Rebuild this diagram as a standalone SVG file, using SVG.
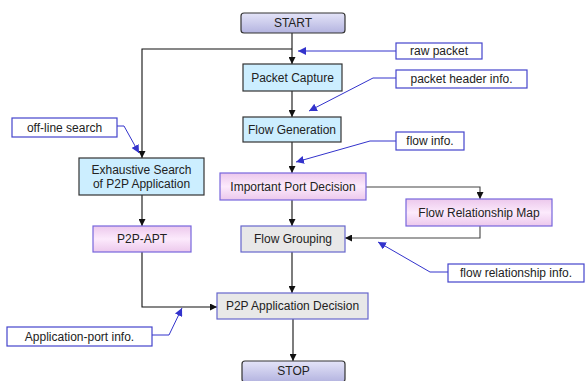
<svg xmlns="http://www.w3.org/2000/svg" width="586" height="381" viewBox="0 0 586 381">
<defs>
<linearGradient id="gTerm" x1="0" y1="0" x2="0" y2="1">
<stop offset="0" stop-color="#e4e4f8"/>
<stop offset="1" stop-color="#b4b4e0"/>
</linearGradient>
<linearGradient id="gPink" x1="0" y1="0" x2="0" y2="1">
<stop offset="0" stop-color="#ecc8ec"/>
<stop offset="0.5" stop-color="#fceafc"/>
<stop offset="1" stop-color="#ecc8ec"/>
</linearGradient>
<marker id="ah" viewBox="0 0 10 10" refX="10" refY="5" markerWidth="7" markerHeight="7" orient="auto" markerUnits="userSpaceOnUse">
<path d="M0,0 L10,5 L0,10 z" fill="#111"/>
</marker>
<marker id="ab" viewBox="0 0 10 10" refX="10" refY="5" markerWidth="8" markerHeight="8" orient="auto" markerUnits="userSpaceOnUse">
<path d="M0,0 L10,5 L0,10 z" fill="#3333cc"/>
</marker>
</defs>
<style>
text{font-family:"Liberation Sans",Arial,sans-serif;font-size:12px;fill:#222;text-anchor:middle;dominant-baseline:central}
.term{fill:url(#gTerm);stroke:#333;stroke-width:1.2}
.blue{fill:#cceeff;stroke:#333;stroke-width:1.2}
.pink{fill:url(#gPink);stroke:#7766dd;stroke-width:1.2}
.gray{fill:#e8e8e8;stroke:#6666cc;stroke-width:1.2}
.note{fill:#fff;stroke:#4444cc;stroke-width:1.2}
.c{fill:none;stroke:#111;stroke-width:1.1}
.cg{fill:none;stroke:#444;stroke-width:1.1}
.p{fill:none;stroke:#3333cc;stroke-width:1}
</style>
<rect width="586" height="381" fill="#fff"/>
<g id="connectors">
<path class="c" d="M292,33 V64" marker-end="url(#ah)"/>
<path class="c" d="M292,49 H142 V158" marker-end="url(#ah)"/>
<path class="c" d="M292,91 V117" marker-end="url(#ah)"/>
<path class="c" d="M292,142 V173" marker-end="url(#ah)"/>
<path class="c" d="M292,200 V226" marker-end="url(#ah)"/>
<path class="cg" d="M366,187 H480 V199" marker-end="url(#ah)"/>
<path class="cg" d="M480,226 V238 H345" marker-end="url(#ah)"/>
<path class="c" d="M292,252 V293" marker-end="url(#ah)"/>
<path class="c" d="M142,195 V226" marker-end="url(#ah)"/>
<path class="c" d="M142,252 V307 H217" marker-end="url(#ah)"/>
<path class="c" d="M293,319 V361" marker-end="url(#ah)"/>
<path class="p" d="M396,51 H298" marker-end="url(#ab)"/>
<path class="p" d="M396,78 H373 L309,111" marker-end="url(#ab)"/>
<path class="p" d="M396,141 H370 L296,162" marker-end="url(#ab)"/>
<path class="p" d="M117,126 H124 L139,153" marker-end="url(#ab)"/>
<path class="p" d="M448,272 H430 L378,242" marker-end="url(#ab)"/>
<path class="p" d="M152,335 H169 L182,308" marker-end="url(#ab)"/>
</g>
<g id="start"><rect class="term" x="241" y="13" width="104" height="20" rx="3"/><text x="293" y="23">START</text></g>
<g id="packet-capture"><rect class="blue" x="243" y="64" width="99" height="27"/><text x="292.5" y="77.5">Packet Capture</text></g>
<g id="flow-generation"><rect class="blue" x="243" y="117" width="98" height="25"/><text x="292" y="129.5">Flow Generation</text></g>
<g id="important-port-decision"><rect class="pink" x="220" y="173" width="146" height="27"/><text x="293" y="186.5">Important Port Decision</text></g>
<g id="flow-grouping"><rect class="gray" x="241" y="226" width="104" height="26"/><text x="293" y="239">Flow Grouping</text></g>
<g id="flow-relationship-map"><rect class="pink" x="406" y="199" width="146" height="27"/><text x="479" y="212.5">Flow Relationship Map</text></g>
<g id="exhaustive-search"><rect class="blue" x="79" y="158" width="125" height="37"/><text x="141.5" y="170">Exhaustive Search</text><text x="141.5" y="184">of P2P Application</text></g>
<g id="p2p-apt"><rect class="pink" x="93" y="226" width="98" height="26"/><text x="142" y="239">P2P-APT</text></g>
<g id="p2p-application-decision"><rect class="gray" x="217" y="293" width="151" height="26"/><text x="292.5" y="306">P2P Application Decision</text></g>
<g id="stop"><rect class="term" x="242" y="361" width="103" height="21" rx="3"/><text x="293.5" y="371">STOP</text></g>
<g id="note-raw-packet"><rect class="note" x="396" y="43" width="86" height="16"/><text x="439" y="51">raw packet</text></g>
<g id="note-packet-header"><rect class="note" x="396" y="70" width="131" height="18"/><text x="461.5" y="79">packet header info.</text></g>
<g id="note-flow-info"><rect class="note" x="396" y="132" width="68" height="18"/><text x="430" y="141">flow info.</text></g>
<g id="note-offline"><rect class="note" x="12" y="118" width="105" height="19"/><text x="64.5" y="127.5">off-line search</text></g>
<g id="note-flow-rel"><rect class="note" x="448" y="264" width="136" height="18"/><text x="516" y="273">flow relationship info.</text></g>
<g id="note-app-port"><rect class="note" x="7" y="327" width="145" height="19"/><text x="79.5" y="336.5">Application-port info.</text></g>
</svg>
